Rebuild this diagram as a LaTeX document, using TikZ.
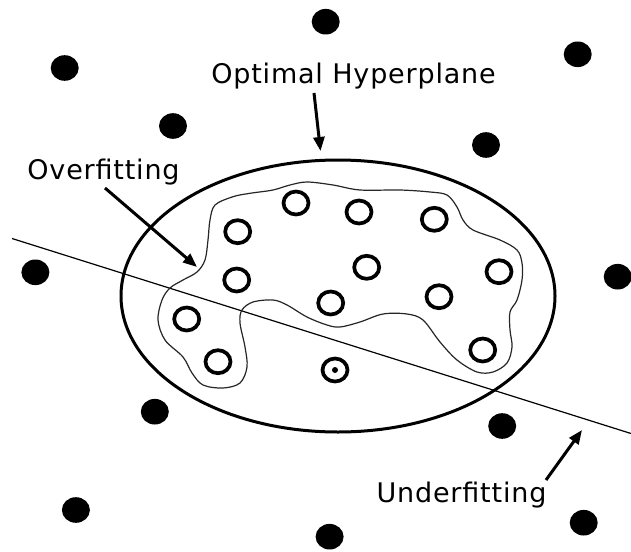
\documentclass[tikz,border=0pt]{standalone}
\usepackage{fontspec}
\setmainfont{DejaVu Sans}
\newfontfamily\lblfont[LetterSpace=3]{DejaVu Sans}
\usetikzlibrary{arrows.meta,shapes.geometric}
\begin{document}
\begin{tikzpicture}[x=1pt,y=-1pt,
  blackdot/.style={ellipse,fill=black,minimum width=28pt,minimum height=25.6pt,inner sep=0pt},
  ring/.style={ellipse,draw=black,line width=3.7pt,minimum width=25pt,minimum height=23pt,inner sep=0pt},
  lbl/.style={font=\lblfont\fontsize{27}{30}\selectfont,inner sep=0pt,anchor=base},
  pointer/.style={line width=3pt,-{Triangle[length=14pt,width=11pt]}},
  region/.style={ellipse,draw=black,line width=3pt,minimum width=434pt,minimum height=272pt,inner sep=0pt},
  hyper/.style={line width=1.2pt},
  wavy/.style={line width=1.2pt,draw=black!85}
]
\useasboundingbox (0,0) rectangle (631,551);
% filled points
\foreach \p [count=\i] in {(325.7,21.7),(64.7,68),(577.7,54.3),(173,126),(486,145),(35.4,272.3),(617.7,276.7),(154.8,411.7),(502.2,426),(75.9,510),(329.6,536.7),(583.7,522.7)}
  \node[blackdot] (d\i) at \p {};
% region ellipse
\node[region] (reg) at (338,296) {};
% hyperplane
\coordinate (h1) at (12,238.5);
\coordinate (h2) at (631,433.5);
\draw[hyper] (h1) -- (h2);
% overfitting boundary
\draw[wavy] plot[smooth cycle,tension=0.55] coordinates {
(215,205) (233,196.7) (250,193.3) (273,190) (290,185) (307,182) (333,185) (360,190) (400,190) (430,192) (447,195) (457,207) (463,220) (473,230) (500,240) (517,250) (522,263) (522,280) (517,300) (510,312) (510,330) (512,347) (507,363) (493,372) (477,372) (457,360) (440,342) (423,320) (407,314) (383,314) (360,322) (340,327) (327,325) (307,317) (287,305) (273,300) (253,302) (242,310) (240,323) (245,347) (247,367) (240,383) (223,388) (203,385) (192,373) (183,357) (165,340) (158,320) (162,300) (170,288) (183,280) (197,272) (205,260) (208,240) (210,220)};
% open circles
\foreach \p [count=\i] in {(296,203),(359,212),(434.3,219.3),(237.7,231.7),(366.7,267.3),(499,271.7),(236.7,280),(330.7,303),(439,296.7),(186.7,319),(218,361.7),(482.7,350),(335,370)}
  \node[ring] (r\i) at \p {};
\fill (r13.center) circle (3pt);
% labels
\node[lbl] (opt) at (353.5,83) {Optimal Hyperplane};
\node[lbl] (over) at (103.5,179) {Overfitting};
\node[lbl] (under) at (461.5,502) {Underfitting};
% arrows
\coordinate (a1s) at (314,93);
\coordinate (a1e) at (320.5,151);
\coordinate (a2s) at (105,188);
\coordinate (a2e) at (197,267);
\coordinate (a3s) at (546,480);
\coordinate (a3e) at (582,430);
\draw[pointer] (a1s) -- (a1e);
\draw[pointer] (a2s) -- (a2e);
\draw[pointer] (a3s) -- (a3e);
\end{tikzpicture}
\end{document}
